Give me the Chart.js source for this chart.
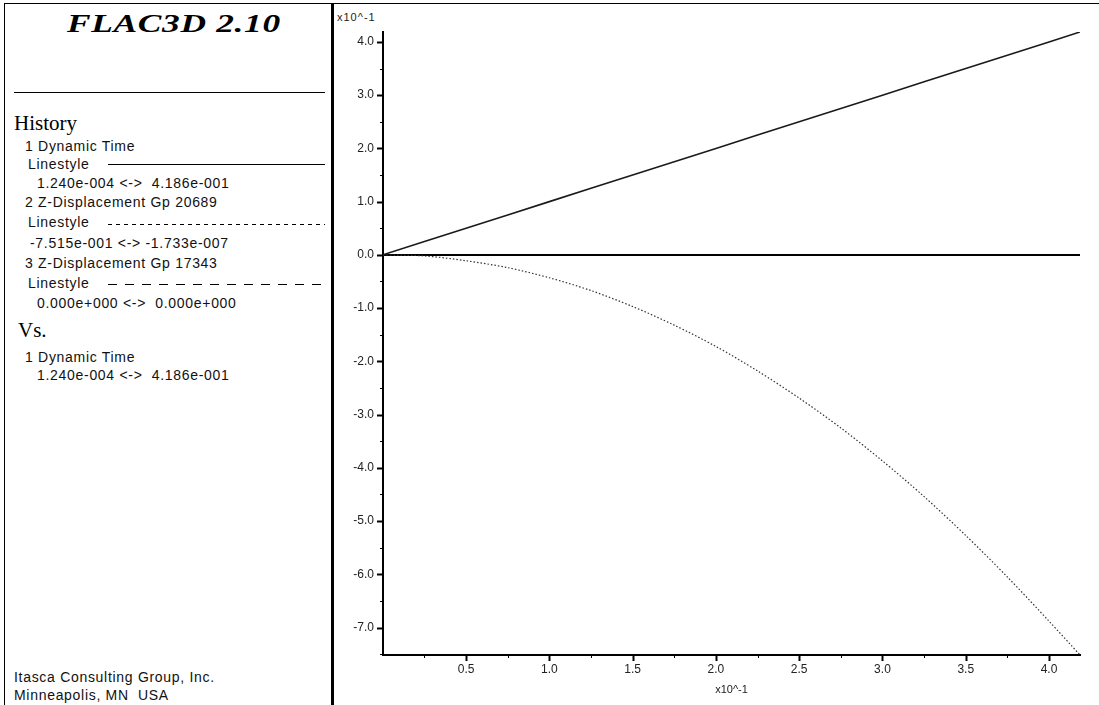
<!DOCTYPE html>
<html>
<head>
<meta charset="utf-8">
<script src="https://cdn.jsdelivr.net/npm/chart.js@4.4.1/dist/chart.umd.min.js"></script>
<style>
  html, body { margin: 0; padding: 0; background: #fff; width: 1099px; height: 705px; overflow: hidden; }
  #frame { position: absolute; left: 4px; top: 3px; width: 1095px; height: 702px; border-top: 1px solid #000; border-left: 1px solid #000; }
  #divider { position: absolute; left: 331px; top: 3px; width: 3px; height: 702px; background: #000; }
  .t { position: absolute; font-family: "Liberation Sans", Arial, sans-serif; font-size: 14px; color: #111; white-space: pre; letter-spacing: 0.7px; line-height: 16px; }
  .serif { font-family: "Liberation Serif", "Times New Roman", serif; font-size: 21px; letter-spacing: 0; line-height: 22px; color: #000; }
  #title { position: absolute; left: 67px; top: 11px; font-family: "Liberation Serif", "Times New Roman", serif; font-weight: bold; font-style: italic; font-size: 26px; line-height: 26px; white-space: pre; transform: scaleX(1.36); transform-origin: left top; letter-spacing: 0.5px; }
  .rule { position: absolute; height: 0; }
  #hr { left: 14px; top: 92px; width: 311px; border-top: 1px solid #000; }
  #ls1 { left: 108px; top: 164px; width: 217px; border-top: 1px solid #000; }
  #ls2 { left: 108px; top: 224px; width: 217px; height: 1px; background: repeating-linear-gradient(90deg, #000 0 4px, transparent 4px 8px); }
  #ls3 { left: 108px; top: 284px; width: 217px; height: 1px; background: repeating-linear-gradient(90deg, #000 0 9px, transparent 9px 17px); }
  #chartBox { position: absolute; left: 335px; top: 0; width: 764px; height: 705px; }
  #ylab { position: absolute; left: 337px; top: 11px; font-family: "Liberation Sans", Arial, sans-serif; font-size: 11px; letter-spacing: 1px; color: #222; }
</style>
</head>
<body>
<div id="frame"></div>
<div id="divider"></div>
<div id="title">FLAC3D 2.10</div>
<div class="rule" id="hr"></div>
<div class="t serif" style="left:14px; top:112px;">History</div>
<div class="t" style="left:25px; top:138px;">1 Dynamic Time</div>
<div class="t" style="left:28px; top:156px;">Linestyle</div>
<div class="rule" id="ls1"></div>
<div class="t" style="left:37px; top:175px;">1.240e-004 &lt;-&gt;  4.186e-001</div>
<div class="t" style="left:25px; top:194px;">2 Z-Displacement Gp 20689</div>
<div class="t" style="left:28px; top:214px;">Linestyle</div>
<div class="rule" id="ls2"></div>
<div class="t" style="left:30px; top:235px;">-7.515e-001 &lt;-&gt; -1.733e-007</div>
<div class="t" style="left:25px; top:255px;">3 Z-Displacement Gp 17343</div>
<div class="t" style="left:28px; top:275px;">Linestyle</div>
<div class="rule" id="ls3"></div>
<div class="t" style="left:37px; top:295px;">0.000e+000 &lt;-&gt;  0.000e+000</div>
<div class="t serif" style="left:18px; top:319px;">Vs.</div>
<div class="t" style="left:25px; top:349px;">1 Dynamic Time</div>
<div class="t" style="left:37px; top:367px;">1.240e-004 &lt;-&gt;  4.186e-001</div>
<div class="t" style="left:14px; top:669px;">Itasca Consulting Group, Inc.</div>
<div class="t" style="left:14px; top:687px;">Minneapolis, MN  USA</div>
<div id="ylab">x10^-1</div>
<div id="chartBox"><canvas id="c" width="764" height="705"></canvas></div>
<script>
// Dynamic time (s) sampled along the history
const timeValues = [0.000124, 0.025, 0.05, 0.075, 0.1, 0.125, 0.15, 0.175, 0.2, 0.225, 0.25, 0.275, 0.3, 0.325, 0.35, 0.375, 0.4, 0.4186];
// History 1: Dynamic Time vs Dynamic Time
const dynamicTime = [0.000124, 0.025, 0.05, 0.075, 0.1, 0.125, 0.15, 0.175, 0.2, 0.225, 0.25, 0.275, 0.3, 0.325, 0.35, 0.375, 0.4, 0.4186];
// History 2: Z-Displacement Gp 20689
const zDisp20689 = [-0.0000002, -0.002, -0.011, -0.024, -0.043, -0.067, -0.097, -0.132, -0.172, -0.218, -0.269, -0.325, -0.387, -0.454, -0.527, -0.605, -0.688, -0.7515];
// History 3: Z-Displacement Gp 17343
const zDisp17343 = [0, 0, 0, 0, 0, 0, 0, 0, 0, 0, 0, 0, 0, 0, 0, 0, 0, 0];
// axis ranges and labelled tick values
const xRange = [0.000124, 0.4186];
const yRange = [-0.7515, 0.4186];
const xTickValues = [0.05, 0.1, 0.15, 0.2, 0.25, 0.3, 0.35, 0.4];
const yTickValues = [-0.7, -0.6, -0.5, -0.4, -0.3, -0.2, -0.1, 0, 0.1, 0.2, 0.3, 0.4];
const xMinorValues = [0.025, 0.075, 0.125, 0.175, 0.225, 0.275, 0.325, 0.375];
const yMinorValues = [-0.75, -0.65, -0.55, -0.45, -0.35, -0.25, -0.15, -0.05, 0.05, 0.15, 0.25, 0.35];

const pts = (ys) => timeValues.map((t, i) => ({ x: t, y: ys[i] }));

const tickMarks = {
  id: 'tickMarks',
  afterDraw(chart) {
    const ctx = chart.ctx;
    const xs = chart.scales.x, ys = chart.scales.y;
    const ca = chart.chartArea;
    ctx.save();
    ctx.strokeStyle = '#000';
    const drawX = (vals, len, w) => {
      ctx.lineWidth = w;
      vals.forEach(v => {
        const px = Math.round(xs.getPixelForValue(v)) + 0.5;
        ctx.beginPath(); ctx.moveTo(px, ca.bottom); ctx.lineTo(px, ca.bottom + len); ctx.stroke();
      });
    };
    const drawY = (vals, len, w) => {
      ctx.lineWidth = w;
      vals.forEach(v => {
        const py = Math.round(ys.getPixelForValue(v)) + 0.5;
        ctx.beginPath(); ctx.moveTo(ca.left, py); ctx.lineTo(ca.left - len, py); ctx.stroke();
      });
    };
    drawX(xTickValues, 6, 2); drawX(xMinorValues, 3, 1);
    drawY(yTickValues, 6, 2); drawY(yMinorValues, 3, 1);
    ctx.restore();
  }
};

const tickFont = { family: '"Liberation Sans", Arial, sans-serif', size: 12 };

new Chart(document.getElementById('c'), {
  type: 'line',
  data: {
    datasets: [
      { label: '1 Dynamic Time', data: timeValues.map((t, i) => ({ x: t, y: dynamicTime[i] })), borderColor: '#1a1a1a', borderWidth: 1.6, pointRadius: 0, fill: false, tension: 0 },
      { label: '2 Z-Displacement Gp 20689', data: pts(zDisp20689), borderColor: '#333', borderWidth: 1.2, borderDash: [1.5, 2], pointRadius: 0, fill: false, tension: 0.3 },
      { label: '3 Z-Displacement Gp 17343', data: pts(zDisp17343), borderColor: '#000', borderWidth: 2, pointRadius: 0, fill: false, tension: 0 }
    ]
  },
  options: {
    responsive: false,
    animation: false,
    layout: { padding: { top: 32, right: 19, left: 0, bottom: 0 } },
    plugins: { legend: { display: false }, tooltip: { enabled: false } },
    scales: {
      x: {
        type: 'linear',
        min: xRange[0], max: xRange[1],
        afterBuildTicks: (s) => { s.ticks = xTickValues.map(v => ({ value: v })); },
        afterFit: (s) => { s.height = 50; },
        ticks: { autoSkip: false, maxRotation: 0, padding: 7, color: '#222', font: tickFont,
                 callback: (v) => (v * 10).toFixed(1) },
        grid: { display: false, drawTicks: false },
        border: { display: true, color: '#000', width: 2 },
        title: { display: true, text: 'x10^-1', color: '#222', font: { family: '"Liberation Sans", Arial, sans-serif', size: 11 }, padding: { top: 2, bottom: 8 } }
      },
      y: {
        type: 'linear',
        min: yRange[0], max: yRange[1],
        afterBuildTicks: (s) => { s.ticks = yTickValues.map(v => ({ value: v })); },
        afterFit: (s) => { s.width = 48; },
        ticks: { autoSkip: false, padding: 9, color: '#222', font: tickFont,
                 callback: (v) => (v * 10).toFixed(1) },
        grid: { display: false, drawTicks: false },
        border: { display: true, color: '#000', width: 2 }
      }
    }
  },
  plugins: [tickMarks]
});
</script>
</body>
</html>
